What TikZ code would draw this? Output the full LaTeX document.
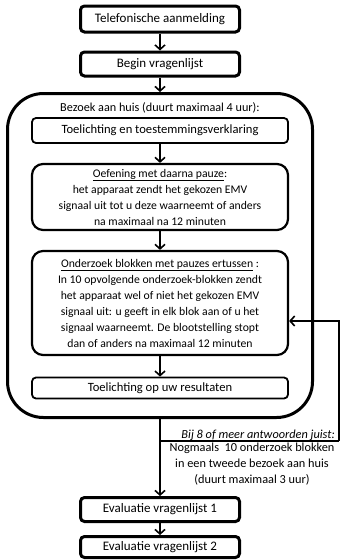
\documentclass[tikz,border=0pt]{standalone}
\usepackage{fontspec}
\setmainfont{Carlito}
\usetikzlibrary{arrows.meta,positioning,calc}

\begin{document}
\begin{tikzpicture}[x=1pt, y=-1pt,
  stap/.style={draw, line width=3pt, rounded corners=4pt, minimum width=159pt, inner sep=0pt, align=center, font=\fontsize{13}{16}\selectfont},
  blok/.style={draw, line width=2.2pt, rounded corners=11pt, minimum width=256pt, inner sep=0pt, align=center, font=\fontsize{11.7}{16}\selectfont},
  dun/.style={draw, line width=1.8pt, rounded corners=4pt, minimum width=256pt, inner sep=0pt, align=center, font=\fontsize{12.6}{16}\selectfont},
  lbl/.style={inner sep=0pt, align=center, font=\fontsize{12.3}{16}\selectfont},
  arr/.style={-{Straight Barb[length=4.5pt,width=10pt]}, line width=1.6pt},
  >=Stealth
]
  \useasboundingbox (0,0) rectangle (341,560);

  % Start (top)
  \node[stap, minimum height=26pt] (tel) at (160,19) {Telefonische aanmelding};
  \node[stap, minimum height=24pt] (begin) at (160,64) {Begin vragenlijst};

  % Visit at home (large frame)
  \node[draw, line width=3pt, rounded corners=36pt, minimum width=305pt, minimum height=324pt] (huis) at (160,255.5) {};
  \node[lbl, font=\fontsize{12.2}{16}\selectfont] (bezoek) at (160,108) {Bezoek aan huis (duurt maximaal 4 uur):};
  \node[dun, minimum height=25pt] (toel) at (160,130.5) {Toelichting en toestemmingsverklaring};
  \node[blok, minimum height=66pt] (oef) at (160,197) {\underline{Oefening met daarna pauze}:\\
    het apparaat zendt het gekozen EMV\\
    signaal uit tot u deze waarneemt of anders\\
    na maximaal na 12 minuten};
  \node[blok, minimum height=104pt] (ond) at (160,303) {\underline{Onderzoek blokken met pauzes ertussen} :\\
    In 10 opvolgende onderzoek-blokken zendt\\
    het apparaat wel of niet het gekozen EMV\\
    signaal uit: u geeft in elk blok aan of u het\\
    signaal waarneemt. De blootstelling stopt\\
    dan of anders na maximaal 12 minuten};
  \node[dun, minimum height=21pt] (res) at (160,388) {Toelichting op uw resultaten};

  % Evaluation (bottom)
  \node[stap, minimum height=24pt] (eval1) at (160,509.5) {Evaluatie vragenlijst 1};
  \node[stap, minimum height=21pt] (eval2) at (160,547) {Evaluatie vragenlijst 2};

  % Main flow
  \draw[arr] (tel) -- (begin);
  \draw[arr] (begin) -- (huis.north);
  \draw[arr] (toel) -- (oef);
  \draw[arr] (oef) -- (ond);
  \draw[arr] (ond) -- (res);
  \draw[arr] (huis.south) -- (eval1);
  \draw[arr] (eval1) -- (eval2);

  % Second visit branch
  \coordinate (splits) at (160,441);
  \coordinate (rechts) at (339,441);
  \coordinate (terug) at ($(ond.east)+(0,18)$);
  \draw[line width=1.2pt] (splits) -- (rechts);
  \draw[arr] (rechts) -- (rechts |- terug) -- (terug);
  \node[lbl, anchor=base east] (juist) at (335,438) {\textit{\underline{Bij 8 of meer antwoorden juist:}}};
  \node[lbl, anchor=north] (nogmaals) at (252,443) {Nogmaals\ \ 10 onderzoek blokken\\
    in een tweede bezoek aan huis\\
    (duurt maximaal 3 uur)};
\end{tikzpicture}
\end{document}
